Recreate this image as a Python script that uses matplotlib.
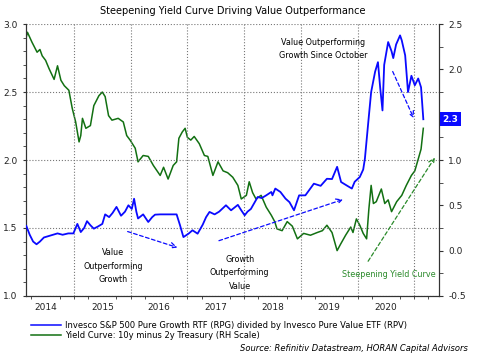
import matplotlib
matplotlib.use("Agg")
import matplotlib.pyplot as plt
import matplotlib.transforms as mtransforms

# RPG / RPV ratio (left axis), dates as decimal years
ratio_t = [2014.16, 2014.22, 2014.28, 2014.34, 2014.40, 2014.47, 2014.55, 2014.63, 2014.71, 2014.80,
           2014.90, 2014.99, 2015.06, 2015.12, 2015.18, 2015.23, 2015.29, 2015.35, 2015.42, 2015.50,
           2015.55, 2015.62, 2015.68, 2015.75, 2015.83, 2015.90, 2015.96, 2016.02, 2016.06, 2016.10,
           2016.13, 2016.22, 2016.31, 2016.38, 2016.43, 2016.52, 2016.60, 2016.70, 2016.81, 2016.87,
           2016.93, 2017.02, 2017.09, 2017.18, 2017.27, 2017.33, 2017.39, 2017.48, 2017.56, 2017.68,
           2017.77, 2017.89, 2017.95, 2018.01, 2018.06, 2018.12, 2018.24, 2018.31, 2018.39, 2018.48,
           2018.50, 2018.55, 2018.64, 2018.73, 2018.80, 2018.88, 2018.97, 2019.08, 2019.15, 2019.23,
           2019.35, 2019.46, 2019.55, 2019.64, 2019.71, 2019.82, 2019.90, 2019.95, 2020.04, 2020.10,
           2020.13, 2020.19, 2020.24, 2020.31, 2020.36, 2020.40, 2020.44, 2020.47, 2020.54, 2020.60,
           2020.63, 2020.68, 2020.75, 2020.78, 2020.84, 2020.89, 2020.95, 2021.01, 2021.07, 2021.12,
           2021.16]
ratio_v = [1.515, 1.45, 1.40, 1.38, 1.40, 1.43, 1.44, 1.45, 1.46, 1.45,
           1.46, 1.46, 1.53, 1.47, 1.50, 1.55, 1.52, 1.495, 1.51, 1.53,
           1.60, 1.58, 1.61, 1.655, 1.59, 1.62, 1.667, 1.64, 1.715, 1.62,
           1.57, 1.60, 1.544, 1.58, 1.598, 1.60, 1.60, 1.60, 1.60, 1.52,
           1.433, 1.458, 1.483, 1.458, 1.524, 1.58, 1.618, 1.60, 1.62, 1.667,
           1.63, 1.67, 1.63, 1.593, 1.62, 1.64, 1.728, 1.72, 1.74, 1.765,
           1.74, 1.79, 1.765, 1.716, 1.69, 1.63, 1.74, 1.74, 1.78, 1.826,
           1.81, 1.862, 1.86, 1.95, 1.838, 1.81, 1.79, 1.84, 1.875, 1.93,
           2.01, 2.28, 2.50, 2.65, 2.72, 2.53, 2.365, 2.70, 2.868, 2.80,
           2.75, 2.85, 2.917, 2.88, 2.77, 2.50, 2.62, 2.55, 2.60, 2.535,
           2.30]

# 10y minus 2y treasury spread (right axis)
curve_t = [2014.16, 2014.18, 2014.26, 2014.35, 2014.40, 2014.44, 2014.50, 2014.56, 2014.65, 2014.71,
           2014.77, 2014.83, 2014.91, 2014.97, 2015.03, 2015.09, 2015.12, 2015.15, 2015.21, 2015.29,
           2015.35, 2015.44, 2015.50, 2015.55, 2015.61, 2015.67, 2015.78, 2015.87, 2015.93, 2015.99,
           2016.08, 2016.13, 2016.22, 2016.31, 2016.40, 2016.52, 2016.58, 2016.66, 2016.75, 2016.81,
           2016.85, 2016.91, 2016.96, 2017.00, 2017.06, 2017.12, 2017.21, 2017.30, 2017.36, 2017.45,
           2017.54, 2017.63, 2017.71, 2017.80, 2017.89, 2017.95, 2018.04, 2018.09, 2018.15, 2018.21,
           2018.30, 2018.39, 2018.48, 2018.54, 2018.58, 2018.67, 2018.76, 2018.85, 2018.94, 2019.05,
           2019.17, 2019.29, 2019.38, 2019.46, 2019.55, 2019.64, 2019.70, 2019.79, 2019.88, 2019.92,
           2019.98, 2020.04, 2020.10, 2020.16, 2020.20, 2020.24, 2020.28, 2020.33, 2020.42, 2020.48,
           2020.54, 2020.60, 2020.69, 2020.78, 2020.86, 2020.95, 2021.01, 2021.07, 2021.12, 2021.16]
curve_v = [2.36, 2.41, 2.30, 2.19, 2.22, 2.15, 2.10, 2.01, 1.89, 2.04,
           1.88, 1.82, 1.77, 1.57, 1.42, 1.20, 1.27, 1.46, 1.35, 1.38,
           1.60, 1.71, 1.75, 1.70, 1.49, 1.44, 1.46, 1.42, 1.27, 1.22,
           1.13, 0.98, 1.05, 1.04, 0.94, 0.83, 0.92, 0.79, 0.94, 0.98,
           1.24, 1.31, 1.35, 1.25, 1.22, 1.26, 1.18, 1.05, 1.04, 0.83,
           0.98, 0.88, 0.86, 0.81, 0.72, 0.57, 0.61, 0.76, 0.64, 0.57,
           0.61, 0.48, 0.39, 0.32, 0.24, 0.22, 0.32, 0.27, 0.13, 0.19,
           0.17, 0.20, 0.22, 0.28, 0.20, 0.00, 0.07, 0.17, 0.26, 0.20,
           0.35, 0.28, 0.19, 0.13, 0.46, 0.72, 0.52, 0.54, 0.68, 0.52,
           0.56, 0.43, 0.54, 0.61, 0.72, 0.83, 0.88, 1.01, 1.12, 1.35]

years = [2014, 2015, 2016, 2017, 2018, 2019, 2020]
last_ratio = 2.3

blue = "#0a0aff"
green = "#127012"
grid_kw = dict(color="#777777", linestyle=":", linewidth=0.8)

plt.rcParams["font.family"] = ["DejaVu Sans"]
fig = plt.figure(figsize=(4.8, 3.6), dpi=100)
ax = fig.add_axes([0.054, 0.178, 0.861, 0.755])
ax2 = ax.twinx()

ax.plot(ratio_t, ratio_v, color=blue, lw=1.3, zorder=3)
ax2.plot(curve_t, curve_v, color=green, lw=1.1, zorder=2)
ax.set_zorder(ax2.get_zorder() + 1)
ax.patch.set_visible(False)

ax.set_xlim(2014.153, 2021.44)
ax.set_ylim(1.0, 3.0)
ax2.set_ylim(-0.5, 2.5)

# x axis: labels centred on each year, grid at year boundaries
ax.set_xticks([y + 0.5 for y in years])
ax.set_xticklabels([str(y) for y in years], fontsize=6.5, color="#222222")
ax.tick_params(axis="x", which="major", length=0, pad=5)
ax.set_xticks([y + q / 4 for y in years + [2021] for q in range(4) if 2014.153 < y + q / 4 < 2021.44], minor=True)
ax.tick_params(axis="x", which="minor", length=2.5, color="#333333")
for y in years[1:] + [2021]:
    ax.axvline(y, zorder=1, **grid_kw)

ax.set_yticks([1.0, 1.5, 2.0, 2.5, 3.0])
ax.set_yticklabels(["1.0", "1.5", "2.0", "2.5", "3.0"], fontsize=6.5, color="#222222")
ax.set_yticks([1.0 + i / 10 for i in range(21)], minor=True)
ax.tick_params(axis="y", which="both", length=2.5, color="#333333")
ax.yaxis.grid(True, **grid_kw)

# the 1.5 label on the right is hidden behind the last-value tag in the original
ax2.set_yticks([-0.5, 0.0, 0.5, 1.0, 1.5, 2.0, 2.5])
ax2.set_yticklabels(["-0.5", "0.0", "0.5", "1.0", "", "2.0", "2.5"], fontsize=6.5, color="#222222")
ax2.set_yticks([-0.5 + i / 4 for i in range(13)], minor=True)
ax2.tick_params(axis="y", which="both", length=3, color="#333333")

for a in (ax, ax2):
    a.spines["top"].set_visible(False)
    for s in ("left", "right", "bottom"):
        a.spines[s].set_color("#333333")
        a.spines[s].set_linewidth(0.8)

ax.set_title("Steepening Yield Curve Driving Value Outperformance", fontsize=7, pad=7)

# annotations
txt = dict(fontsize=5.8, ha="center", va="center", linespacing=1.6, zorder=5)
ax.text(2019.39, 2.816, "Value Outperforming\nGrowth Since October", **txt)
ax.text(2015.69, 1.22, "Value\nOutperforming\nGrowth", **txt)
ax.text(2017.92, 1.17, "Growth\nOutperforming\nValue", **txt)
ax.text(2020.55, 1.16, "Steepening Yield Curve", color="#2a8a2a", **txt)

arr_b = dict(arrowstyle="->", color=blue, lw=0.9, linestyle=(0, (3, 2)))
ax.annotate("", xy=(2021.01, 2.29), xytext=(2020.60, 2.67), arrowprops=arr_b)
ax.annotate("", xy=(2016.87, 1.35), xytext=(2015.90, 1.48), arrowprops=arr_b)
ax.annotate("", xy=(2019.79, 1.716), xytext=(2017.51, 1.40), arrowprops=arr_b)
arr_g = dict(arrowstyle="->", color="#2a8a2a", lw=0.9, linestyle=(0, (3, 2)))
ax.annotate("", xy=(2021.39, 2.035), xytext=(2020.16, 1.238), arrowprops=arr_g)

# last value tag on the right side
trans = mtransforms.blended_transform_factory(ax.transAxes, ax.transData)
ax.text(1.008, last_ratio, "2.3", transform=trans, fontsize=6.5, fontweight="bold",
        color="white", ha="left", va="center", clip_on=False, zorder=6,
        bbox=dict(boxstyle="square,pad=0.3", fc=blue, ec="none"))

# legend below
h1, = ax.plot([], [], color=blue, lw=1.1)
h2, = ax.plot([], [], color=green, lw=1.1)
fig.legend([h1, h2],
           ["Invesco S&P 500 Pure Growth RTF (RPG) divided by Invesco Pure Value ETF (RPV)",
            "Yield Curve: 10y minus 2y Treasury (RH Scale)"],
           loc="upper left", bbox_to_anchor=(0.055, 0.93 - 0.755 - 0.055), frameon=False,
           fontsize=6, handlelength=3.6, handletextpad=0.5, labelspacing=0.15, borderpad=0)

fig.text(0.975, 0.02, "Source: Refinitiv Datastream, HORAN Capital Advisors",
         fontsize=6, style="italic", ha="right", va="bottom")

fig.savefig("out.png", dpi=100)
